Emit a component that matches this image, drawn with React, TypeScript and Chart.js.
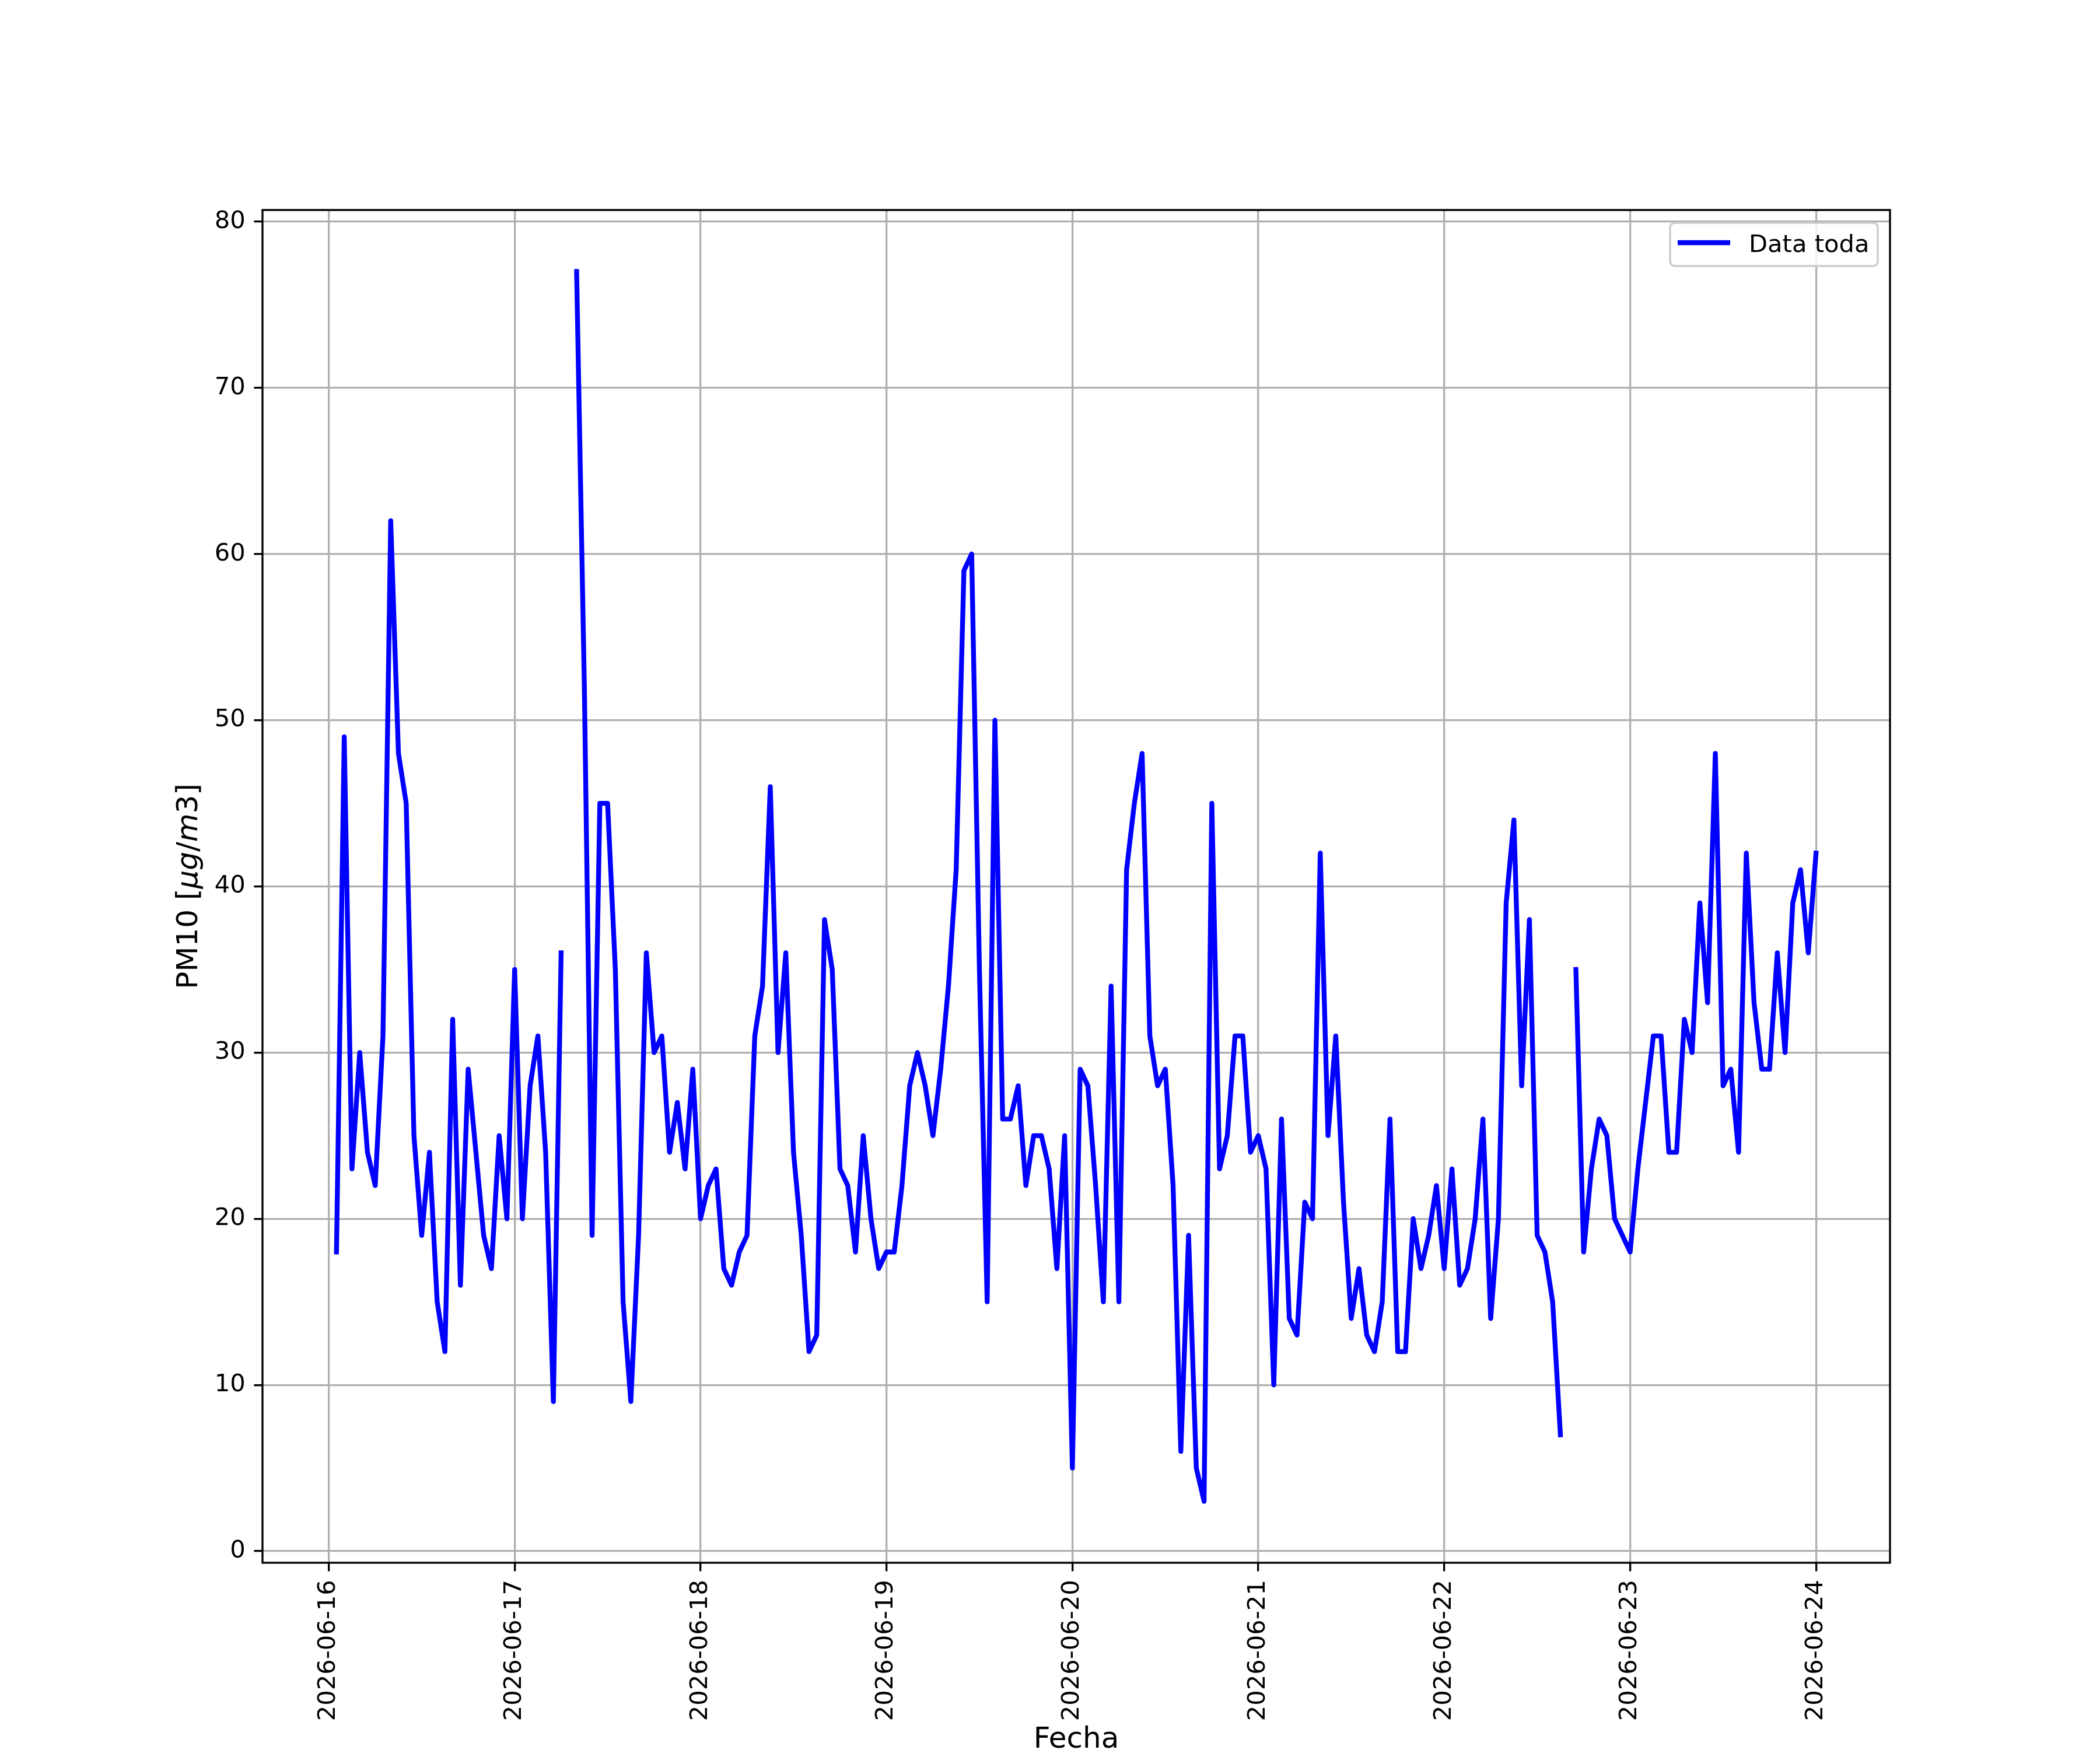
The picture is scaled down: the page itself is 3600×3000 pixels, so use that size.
import { useEffect, useRef } from "react";
import { Chart, registerables } from "chart.js";

Chart.register(...registerables);

// Day ticks on the x axis (one per midnight)
const DAY_LABELS = [
  "2026-06-16",
  "2026-06-17",
  "2026-06-18",
  "2026-06-19",
  "2026-06-20",
  "2026-06-21",
  "2026-06-22",
  "2026-06-23",
  "2026-06-24",
];

const Y_TICKS = [0, 10, 20, 30, 40, 50, 60, 70, 80];

// Hourly PM10 values (µg/m3); null = missing hour
// 06-16 starts at 01:00
const PM10_0616 = [18, 49, 23, 30, 24, 22, 31, 62, 48, 45, 25, 19, 24, 15, 12, 32, 16, 29, 24, 19, 17, 25, 20];
const PM10_0617 = [35, 20, 28, 31, 24, 9, 36, null, 77, 52, 19, 45, 45, 35, 15, 9, 19, 36, 30, 31, 24, 27, 23, 29];
const PM10_0618 = [20, 22, 23, 17, 16, 18, 19, 31, 34, 46, 30, 36, 24, 19, 12, 13, 38, 35, 23, 22, 18, 25, 20, 17];
const PM10_0619 = [18, 18, 22, 28, 30, 28, 25, 29, 34, 41, 59, 60, 35, 15, 50, 26, 26, 28, 22, 25, 25, 23, 17, 25];
const PM10_0620 = [5, 29, 28, 22, 15, 34, 15, 41, 45, 48, 31, 28, 29, 22, 6, 19, 5, 3, 45, 23, 25, 31, 31, 24];
const PM10_0621 = [25, 23, 10, 26, 14, 13, 21, 20, 42, 25, 31, 21, 14, 17, 13, 12, 15, 26, 12, 12, 20, 17, 19, 22];
const PM10_0622 = [17, 23, 16, 17, 20, 26, 14, 20, 39, 44, 28, 38, 19, 18, 15, 7, null, 35, 18, 23, 26, 25, 20, 19];
const PM10_0623 = [18, 23, 27, 31, 31, 24, 24, 32, 30, 39, 33, 48, 28, 29, 24, 42, 33, 29, 29, 36, 30, 39, 41, 36];
// 06-24 only has 00:00
const PM10_0624 = [42];

const DAYS: { values: (number | null)[]; firstHour: number }[] = [
  { values: PM10_0616, firstHour: 1 },
  { values: PM10_0617, firstHour: 0 },
  { values: PM10_0618, firstHour: 0 },
  { values: PM10_0619, firstHour: 0 },
  { values: PM10_0620, firstHour: 0 },
  { values: PM10_0621, firstHour: 0 },
  { values: PM10_0622, firstHour: 0 },
  { values: PM10_0623, firstHour: 0 },
  { values: PM10_0624, firstHour: 0 },
];

// x = hours since 2026-06-16 00:00
const POINTS = DAYS.flatMap((d, day) =>
  d.values.map((v, i) => ({ x: day * 24 + d.firstHour + i, y: v }))
);

const FONT = '"DejaVu Sans", sans-serif';
const PT = 300 / 72; // figure was rendered at 300 dpi
const LINE_W = 2 * PT;

// frame, legend and axis titles drawn the matplotlib way
const decorPlugin = {
  id: "decor",
  afterDraw(chart: Chart) {
    const { ctx, chartArea: a } = chart;
    ctx.save();

    // spines
    ctx.strokeStyle = "#000";
    ctx.lineWidth = 0.8 * PT;
    ctx.strokeRect(a.left, a.top, a.right - a.left, a.bottom - a.top);

    // legend
    const lx = 2863, ly = 382, lw = 356, lh = 74, r = 8;
    ctx.beginPath();
    ctx.moveTo(lx + r, ly);
    ctx.arcTo(lx + lw, ly, lx + lw, ly + lh, r);
    ctx.arcTo(lx + lw, ly + lh, lx, ly + lh, r);
    ctx.arcTo(lx, ly + lh, lx, ly, r);
    ctx.arcTo(lx, ly, lx + lw, ly, r);
    ctx.closePath();
    ctx.fillStyle = "rgba(255,255,255,0.8)";
    ctx.fill();
    ctx.strokeStyle = "#cccccc";
    ctx.lineWidth = 3.5;
    ctx.stroke();

    ctx.beginPath();
    ctx.moveTo(2876, 416);
    ctx.lineTo(2966, 416);
    ctx.strokeStyle = "#0000ff";
    ctx.lineWidth = LINE_W;
    ctx.stroke();

    ctx.fillStyle = "#000";
    ctx.font = `${10 * PT}px ${FONT}`;
    ctx.textAlign = "left";
    ctx.textBaseline = "alphabetic";
    ctx.fillText("Data toda", 2998, 432);

    // x title
    ctx.font = `${12 * PT}px ${FONT}`;
    ctx.textAlign = "center";
    ctx.fillText("Fecha", (a.left + a.right) / 2, 2996);

    // y title: PM10 [$\mu g/m3$]
    const parts: [string, boolean][] = [
      ["PM10 [", false],
      ["\u03bcg", true],
      ["/", false],
      ["m", true],
      ["3", false],
      ["]", false],
    ];
    const fontFor = (it: boolean) => `${it ? "italic " : ""}${12 * PT}px ${FONT}`;
    let total = 0;
    for (const [t, it] of parts) {
      ctx.font = fontFor(it);
      total += ctx.measureText(t).width;
    }
    ctx.translate(338, (a.top + a.bottom) / 2);
    ctx.rotate(-Math.PI / 2);
    ctx.textAlign = "left";
    let x = -total / 2;
    for (const [t, it] of parts) {
      ctx.font = fontFor(it);
      ctx.fillText(t, x, 0);
      x += ctx.measureText(t).width;
    }

    ctx.restore();
  },
};

export default function App() {
  const canvasRef = useRef<HTMLCanvasElement>(null);

  useEffect(() => {
    if (!canvasRef.current) return;
    const tickFont = { family: FONT, size: 10 * PT };

    const chart = new Chart(canvasRef.current, {
      type: "line",
      plugins: [decorPlugin],
      data: {
        datasets: [
          {
            label: "Data toda",
            data: POINTS,
            borderColor: "#0000ff",
            borderWidth: LINE_W,
            borderJoinStyle: "round",
            borderCapStyle: "square",
            pointRadius: 0,
            tension: 0,
            spanGaps: false,
            fill: false,
          },
        ],
      },
      options: {
        animation: false,
        responsive: true,
        maintainAspectRatio: false,
        devicePixelRatio: 1,
        layout: { padding: { left: 0, top: 360, right: 360, bottom: 0 } },
        plugins: {
          legend: { display: false },
          tooltip: { enabled: false },
        },
        scales: {
          x: {
            type: "linear",
            min: -8.55,
            max: 201.55,
            afterBuildTicks: (scale) => {
              scale.ticks = DAY_LABELS.map((_, i) => ({ value: i * 24 }));
            },
            afterFit: (scale) => {
              scale.height = 321;
            },
            grid: {
              color: "#b0b0b0",
              lineWidth: 0.8 * PT,
              tickColor: "#000",
              tickWidth: 0.8 * PT,
              tickLength: 3.5 * PT,
            },
            border: { display: false },
            ticks: {
              autoSkip: false,
              minRotation: 90,
              maxRotation: 90,
              padding: 3.5 * PT,
              color: "#000",
              font: tickFont,
              callback: (_v, i) => DAY_LABELS[i],
            },
          },
          y: {
            type: "linear",
            min: -0.7,
            max: 80.7,
            afterBuildTicks: (scale) => {
              scale.ticks = Y_TICKS.map((v) => ({ value: v }));
            },
            afterFit: (scale) => {
              scale.width = 450;
            },
            grid: {
              color: "#b0b0b0",
              lineWidth: 0.8 * PT,
              tickColor: "#000",
              tickWidth: 0.8 * PT,
              tickLength: 3.5 * PT,
            },
            border: { display: false },
            ticks: {
              padding: 3.5 * PT,
              color: "#000",
              font: tickFont,
              callback: (v) => String(v),
            },
          },
        },
      },
    });
    return () => chart.destroy();
  }, []);

  return (
    <div
      style={{
        position: "absolute",
        left: 0,
        top: 0,
        width: 3600,
        height: 3000,
        background: "#fff",
      }}
    >
      <canvas ref={canvasRef} />
    </div>
  );
}
